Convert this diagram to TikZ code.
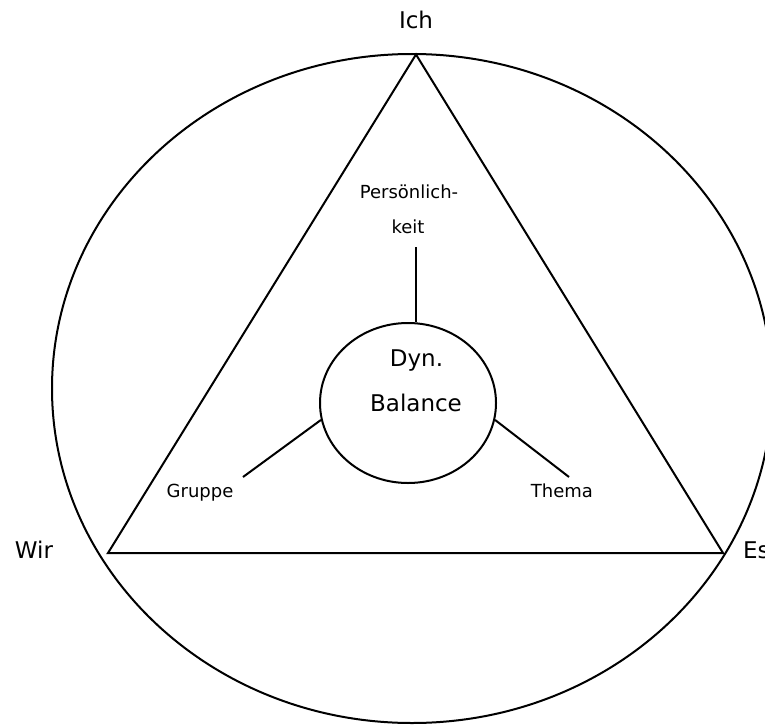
\documentclass[tikz,border=0pt]{standalone}
\usepackage{fontspec}
\setmainfont{DejaVu Sans}
\usetikzlibrary{shapes.geometric}
\begin{document}
\begin{tikzpicture}[x=1pt,y=-1pt,
  line/.style={line width=2pt,black},
  bigtext/.style={font=\fontsize{23}{28}\selectfont,inner sep=0pt,anchor=base},
  smalltext/.style={font=\fontsize{18}{22}\selectfont,inner sep=0pt,anchor=base}]
\useasboundingbox (0,0) rectangle (765,725);
% outer ellipse
\node[draw,line,ellipse,inner sep=0pt,minimum width=720pt,minimum height=669pt] (outer) at (412,388.5) {};
% triangle
\coordinate (ich) at (416,54.5);
\coordinate (wir) at (108,553);
\coordinate (es) at (723,553);
\draw[line,line join=miter] (ich) -- (wir) -- (es) -- cycle;
% inner ellipse
\node[draw,line,ellipse,inner sep=0pt,minimum width=176pt,minimum height=160pt] (balance) at (408,403) {};
% labels
\node[bigtext] (tIch) at (416,29) {Ich};
\node[bigtext] (tWir) at (34,558) {Wir};
\node[bigtext,anchor=base west] (tEs) at (743,558) {Es};
\node[bigtext] (tDyn) at (416.5,366.5) {Dyn.};
\node[bigtext] (tBal) at (416,411) {Balance};
\node[smalltext] (tPers) at (409,198) {Persönlich-};
\node[smalltext] (tKeit) at (408,233) {keit};
\node[smalltext] (tGruppe) at (200,497) {Gruppe};
\node[smalltext] (tThema) at (562,497) {Thema};
% connectors
\coordinate (pEnd) at (416,247);
\coordinate (gEnd) at (243,477);
\coordinate (thEnd) at (569,477);
\draw[line] (pEnd) -- (balance.north -| pEnd);
\draw[line] (balance.{atan2(-17,-88)}) -- (gEnd);
\draw[line] (balance.{atan2(-18,86)}) -- (thEnd);
\end{tikzpicture}
\end{document}
